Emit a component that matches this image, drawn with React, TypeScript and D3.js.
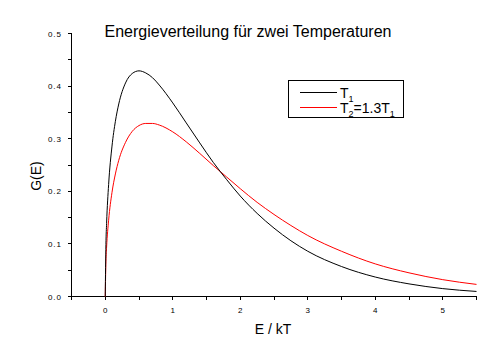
import { useEffect, useRef } from 'react';
import * as d3 from 'd3';

// values (E/kT vs G(E))
const energies = [0, 0.01, 0.02, 0.05, 0.1, 0.15, 0.2, 0.3, 0.4, 0.5, 0.6, 0.7, 0.8, 1.0, 1.2, 1.4, 1.6, 1.8, 2.0, 2.25, 2.5, 2.75, 3.0, 3.5, 4.0, 4.5, 5.0, 5.5];
const gT1 = [0, 0.099, 0.139, 0.213, 0.286, 0.333, 0.366, 0.406, 0.424, 0.429, 0.425, 0.416, 0.402, 0.368, 0.330, 0.292, 0.255, 0.222, 0.191, 0.158, 0.130, 0.106, 0.086, 0.057, 0.037, 0.024, 0.015, 0.0096];
const gT2 = [0, 0.067, 0.094, 0.145, 0.198, 0.233, 0.259, 0.293, 0.314, 0.325, 0.329, 0.329, 0.326, 0.313, 0.294, 0.272, 0.249, 0.227, 0.205, 0.179, 0.156, 0.135, 0.116, 0.086, 0.062, 0.045, 0.032, 0.023];

const xMajor = [0, 1, 2, 3, 4, 5];
const xMinor = [-0.5, 0.5, 1.5, 2.5, 3.5, 4.5, 5.5];
const yMajor = [0, 0.1, 0.2, 0.3, 0.4, 0.5];
const yMinor = [0.05, 0.15, 0.25, 0.35, 0.45];

const W = 504;
const H = 361;
const FONT = '"Liberation Sans", Arial, sans-serif';

export default function App() {
  const svgRef = useRef<SVGSVGElement>(null);

  useEffect(() => {
    if (!svgRef.current) return;
    const svg = d3.select(svgRef.current);
    svg.selectAll('*').remove();

    const x = d3.scaleLinear().domain([-0.5, 5.5]).range([71.5, 476.5]);
    const y = d3.scaleLinear().domain([0, 0.5]).range([296.5, 33.5]);

    svg.append('rect').attr('width', W).attr('height', H).attr('fill', '#fff');

    // axes
    const ax = svg.append('g').attr('stroke', '#000').attr('stroke-width', 1).attr('shape-rendering', 'crispEdges');
    ax.append('line').attr('x1', x(-0.5)).attr('x2', x(5.5)).attr('y1', y(0)).attr('y2', y(0));
    ax.append('line').attr('x1', x(-0.5)).attr('x2', x(-0.5)).attr('y1', y(0)).attr('y2', y(0.5));

    [...xMajor, ...xMinor].forEach(v => {
      ax.append('line').attr('x1', x(v)).attr('x2', x(v)).attr('y1', y(0)).attr('y2', y(0) + 3);
    });
    [...yMajor, ...yMinor].forEach(v => {
      ax.append('line').attr('x1', x(-0.5) - 4).attr('x2', x(-0.5)).attr('y1', y(v)).attr('y2', y(v));
    });

    svg.append('g')
      .selectAll('text')
      .data(xMajor)
      .enter()
      .append('text')
      .attr('x', d => x(d))
      .attr('y', 313)
      .attr('text-anchor', 'middle')
      .attr('font-family', FONT)
      .attr('font-size', 8)
      .text(d => d3.format('d')(d));

    svg.append('g')
      .selectAll('text')
      .data(yMajor)
      .enter()
      .append('text')
      .attr('x', 62)
      .attr('y', d => y(d) + 3)
      .attr('text-anchor', 'end')
      .attr('font-family', FONT)
      .attr('font-size', 8)
      .attr('letter-spacing', 1)
      .text(d => d3.format('.1f')(d));

    // curves
    const line = d3.line<number>()
      .x((_, i) => x(energies[i]))
      .y(d => y(d))
      .curve(d3.curveMonotoneX);

    svg.append('path').attr('d', line(gT2)).attr('fill', 'none').attr('stroke', '#ff0000').attr('stroke-width', 1);
    svg.append('path').attr('d', line(gT1)).attr('fill', 'none').attr('stroke', '#000').attr('stroke-width', 1);

    // titles
    svg.append('text')
      .attr('x', 248).attr('y', 37)
      .attr('text-anchor', 'middle')
      .attr('font-family', FONT).attr('font-size', 16)
      .text('Energieverteilung für zwei Temperaturen');

    svg.append('text')
      .attr('x', 273).attr('y', 334)
      .attr('text-anchor', 'middle')
      .attr('font-family', FONT).attr('font-size', 14)
      .text('E / kT');

    svg.append('text')
      .attr('transform', 'translate(41,176) rotate(-90)')
      .attr('text-anchor', 'middle')
      .attr('font-family', FONT).attr('font-size', 14)
      .text('G(E)');

    // legend
    const lg = svg.append('g');
    lg.append('rect')
      .attr('x', 288.5).attr('y', 80.5).attr('width', 115).attr('height', 37)
      .attr('fill', '#fff').attr('stroke', '#000').attr('stroke-width', 1)
      .attr('shape-rendering', 'crispEdges');
    lg.append('line').attr('x1', 300).attr('x2', 337).attr('y1', 92).attr('y2', 92)
      .attr('stroke', '#000').attr('shape-rendering', 'crispEdges');
    lg.append('line').attr('x1', 300).attr('x2', 337).attr('y1', 107).attr('y2', 107)
      .attr('stroke', '#ff0000').attr('shape-rendering', 'crispEdges');

    const t1 = lg.append('text').attr('x', 340).attr('y', 98).attr('font-family', FONT).attr('font-size', 14);
    t1.append('tspan').text('T');
    t1.append('tspan').attr('font-size', 9).attr('dy', 4).text('1');

    const t2 = lg.append('text').attr('x', 340).attr('y', 113).attr('font-family', FONT).attr('font-size', 14);
    t2.append('tspan').text('T');
    t2.append('tspan').attr('font-size', 9).attr('dy', 4).text('2');
    t2.append('tspan').attr('dy', -4).text('=1.3T');
    t2.append('tspan').attr('font-size', 9).attr('dy', 4).text('1');
  }, []);

  return (
    <div style={{ position: 'absolute', left: 0, top: 0, width: W, height: H }}>
      <svg ref={svgRef} width={W} height={H} />
    </div>
  );
}
